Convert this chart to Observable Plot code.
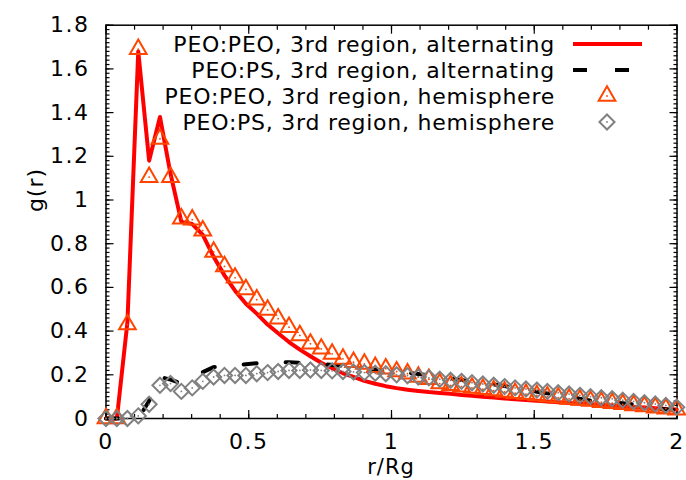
<!DOCTYPE html>
<html><head><meta charset="utf-8">
<script src="https://cdn.jsdelivr.net/npm/d3@7"></script>
<script src="https://cdn.jsdelivr.net/npm/@observablehq/plot@0.6"></script>
<style>body{margin:0;background:#fff} svg{display:block}</style>
</head><body><div id="chart"></div>
<script>
// ---- data ----
const rRg = [0, 0.038, 0.075, 0.113, 0.151, 0.189, 0.226, 0.264, 0.302, 0.339,
  0.377, 0.415, 0.452, 0.490, 0.528, 0.566, 0.603, 0.641, 0.679, 0.716,
  0.754, 0.792, 0.830, 0.867, 0.905, 0.943, 0.980, 1.018, 1.056, 1.094,
  1.131, 1.169, 1.207, 1.245, 1.282, 1.320, 1.358, 1.396, 1.433, 1.471,
  1.509, 1.546, 1.584, 1.622, 1.660, 1.697, 1.735, 1.773, 1.810, 1.848,
  1.886, 1.924, 1.961, 1.999];
const peoPeoAlternating = [0, 0, 0.44, 1.68, 1.18, 1.38, 1.12, 0.90, 0.89, 0.84,
  0.74, 0.655, 0.585, 0.525, 0.48, 0.43, 0.39, 0.35, 0.315, 0.285,
  0.255, 0.23, 0.207, 0.19, 0.172, 0.159, 0.148, 0.139, 0.132, 0.126,
  0.121, 0.117, 0.113, 0.108, 0.104, 0.100, 0.096, 0.092, 0.088, 0.085,
  0.081, 0.078, 0.074, 0.071, 0.068, 0.065, 0.062, 0.059, 0.056, 0.053,
  0.050, 0.047, 0.044, 0.041];
const peoPsAlternating = [0, 0, 0, 0, 0.08, 0.19, 0.178, 0.16, 0.185, 0.212,
  0.235, 0.24, 0.243, 0.248, 0.253, 0.255, 0.257, 0.258, 0.255, 0.252,
  0.249, 0.245, 0.24, 0.235, 0.23, 0.224, 0.219, 0.214, 0.209, 0.204,
  0.198, 0.19, 0.183, 0.176, 0.169, 0.163, 0.156, 0.149, 0.14, 0.131,
  0.122, 0.115, 0.108, 0.10, 0.09, 0.082, 0.078, 0.074, 0.07, 0.065,
  0.057, 0.048, 0.042, 0.04];
const peoPeoHemisphere = [0, 0, 0.43, 1.69, 1.105, 1.28, 1.105, 0.915, 0.91, 0.86,
  0.762, 0.696, 0.644, 0.591, 0.544, 0.497, 0.457, 0.418, 0.38, 0.342,
  0.319, 0.296, 0.273, 0.258, 0.25, 0.235, 0.228, 0.215, 0.205, 0.19,
  0.18, 0.16, 0.152, 0.146, 0.14, 0.134, 0.128, 0.122, 0.116, 0.111,
  0.106, 0.10, 0.095, 0.09, 0.085, 0.08, 0.075, 0.07, 0.065, 0.06,
  0.055, 0.05, 0.045, 0.04];
const peoPsHemisphere = [0, 0, 0, 0.012, 0.065, 0.152, 0.16, 0.124, 0.14, 0.17,
  0.19, 0.197, 0.197, 0.197, 0.205, 0.21, 0.215, 0.22, 0.22, 0.222,
  0.22, 0.218, 0.215, 0.213, 0.21, 0.207, 0.205, 0.2, 0.196, 0.19,
  0.186, 0.18, 0.175, 0.17, 0.164, 0.158, 0.152, 0.146, 0.14, 0.135,
  0.13, 0.124, 0.118, 0.112, 0.106, 0.10, 0.095, 0.09, 0.084, 0.078,
  0.072, 0.066, 0.06, 0.052];
const seriesNames = ["PEO:PEO, 3rd region, alternating", "PEO:PS, 3rd region, alternating",
  "PEO:PEO, 3rd region, hemisphere", "PEO:PS, 3rd region, hemisphere"];
const xTicks = [0, 0.5, 1, 1.5, 2];
const xTickLabels = ["0", "0.5", "1", "1.5", "2"];
const yTicks = [0, 0.2, 0.4, 0.6, 0.8, 1, 1.2, 1.4, 1.6, 1.8];
const yTickLabels = ["0", "0.2", "0.4", "0.6", "0.8", "1", "1.2", "1.4", "1.6", "1.8"];
const xLabel = "r/Rg";
const yLabel = "g(r)";

// ---- build ----
const rows = ys => rRg.map((x, i) => ({x, y: ys[i]}));
const xMinor = d3.range(0, 2.0001, 0.1).map(v => +v.toFixed(2));
const yMinor = d3.range(0, 1.8001, 0.02).map(v => +v.toFixed(2));
const xFmt = new Map(xTicks.map((t, i) => [t, xTickLabels[i]]));
const yFmt = new Map(yTicks.map((t, i) => [t, yTickLabels[i]]));
const font = "DejaVu Sans, sans-serif";
const none = () => "";
const RED = "#ff0000", ORANGE = "#ff4500", GRAY = "#808080";
const TICKFONT = 22, LEGFONT = 22, XLABFONT = 21;

const tickMarks = (fn, anchor, ticks, size) =>
  fn(ticks, {anchor, tickSize: -size, tickFormat: none, label: null, strokeWidth: 1.2});

const plot = Plot.plot({
  width: 686, height: 480,
  marginLeft: 105.5, marginRight: 9.5, marginTop: 24.7, marginBottom: 62,
  style: {fontFamily: font, fontSize: TICKFONT + "px", color: "#000", background: "#fff", overflow: "visible"},
  x: {domain: [0, 2]},
  y: {domain: [0, 1.8]},
  marks: [
    tickMarks(Plot.axisX, "bottom", xMinor, 4),
    tickMarks(Plot.axisX, "top", xMinor, 4),
    tickMarks(Plot.axisX, "bottom", xTicks, 8),
    tickMarks(Plot.axisX, "top", xTicks, 8),
    tickMarks(Plot.axisY, "left", yMinor, 4),
    tickMarks(Plot.axisY, "right", yMinor, 4),
    tickMarks(Plot.axisY, "left", yTicks, 8),
    tickMarks(Plot.axisY, "right", yTicks, 8),
    Plot.axisX(xTicks, {anchor: "bottom", tickSize: 0, tickPadding: 15, tickFormat: d => xFmt.get(d), label: null, fontSize: TICKFONT}),
    Plot.axisY(yTicks, {anchor: "left", tickSize: 0, tickPadding: 16.5, tickFormat: d => yFmt.get(d), label: null, fontSize: TICKFONT}),
    Plot.frame({stroke: "#000", strokeWidth: 1.5}),
    Plot.line(rows(peoPeoAlternating), {x: "x", y: "y", stroke: RED, strokeWidth: 4}),
    Plot.line(rows(peoPsAlternating), {x: "x", y: "y", stroke: "#000", strokeWidth: 4, strokeDasharray: "13,29"}),
    Plot.dot(rows(peoPeoHemisphere), {x: "x", y: "y", symbol: "triangle", r: 6.2, stroke: ORANGE, strokeWidth: 2, fill: "none"}),
    Plot.dot(rows(peoPeoHemisphere), {x: "x", y: "y", r: 0.9, fill: ORANGE, stroke: "none"}),
    Plot.dot(rows(peoPsHemisphere), {x: "x", y: "y", symbol: "diamond2", r: 6.8, stroke: GRAY, strokeWidth: 2, fill: "none"}),
    Plot.dot(rows(peoPsHemisphere), {x: "x", y: "y", r: 0.9, fill: GRAY, stroke: "none"})
  ]
});
document.getElementById("chart").appendChild(plot);

// tick labels slightly wider, like the reference
d3.select(plot).selectAll("g[aria-label$='tick label'] text").attr("letter-spacing", "1.5px");

// ---- axis titles & legend ----
const svg = d3.select(plot);
svg.append("text").attr("x", 391).attr("y", 474).attr("text-anchor", "middle")
  .attr("font-family", font).attr("font-size", XLABFONT).attr("letter-spacing", "1px").attr("fill", "#000").text(xLabel);
svg.append("text").attr("transform", "translate(43,190) rotate(-90)").attr("text-anchor", "middle")
  .attr("font-family", font).attr("font-size", LEGFONT).attr("letter-spacing", "1px").attr("fill", "#000").text(yLabel);

const leg = svg.append("g").attr("font-family", font).attr("font-size", LEGFONT).attr("letter-spacing", "0.75px");
const rowY = [44, 70, 96, 122];
const textRight = 555, sx0 = 573, sx1 = 642, smid = 607;
seriesNames.forEach((name, i) => {
  leg.append("text").attr("x", textRight).attr("y", rowY[i]).attr("dy", "0.36em")
    .attr("text-anchor", "end").attr("fill", "#000").text(name);
});
leg.append("line").attr("x1", sx0).attr("x2", sx1).attr("y1", rowY[0]).attr("y2", rowY[0])
  .attr("stroke", RED).attr("stroke-width", 4);
leg.append("line").attr("x1", sx0).attr("x2", sx1).attr("y1", rowY[1]).attr("y2", rowY[1])
  .attr("stroke", "#000").attr("stroke-width", 4).attr("stroke-dasharray", "14,28");
leg.append("path").attr("transform", `translate(${smid},${rowY[2]})`)
  .attr("d", d3.symbol(d3.symbolTriangle, Math.PI * 6.2 * 6.2)()).attr("fill", "none").attr("stroke", ORANGE).attr("stroke-width", 2);
leg.append("circle").attr("cx", smid).attr("cy", rowY[2]).attr("r", 0.9).attr("fill", ORANGE);
leg.append("path").attr("transform", `translate(${smid},${rowY[3]})`)
  .attr("d", d3.symbol(d3.symbolDiamond2, Math.PI * 6.8 * 6.8)()).attr("fill", "none").attr("stroke", GRAY).attr("stroke-width", 2);
leg.append("circle").attr("cx", smid).attr("cy", rowY[3]).attr("r", 0.9).attr("fill", GRAY);
</script>
</body></html>
